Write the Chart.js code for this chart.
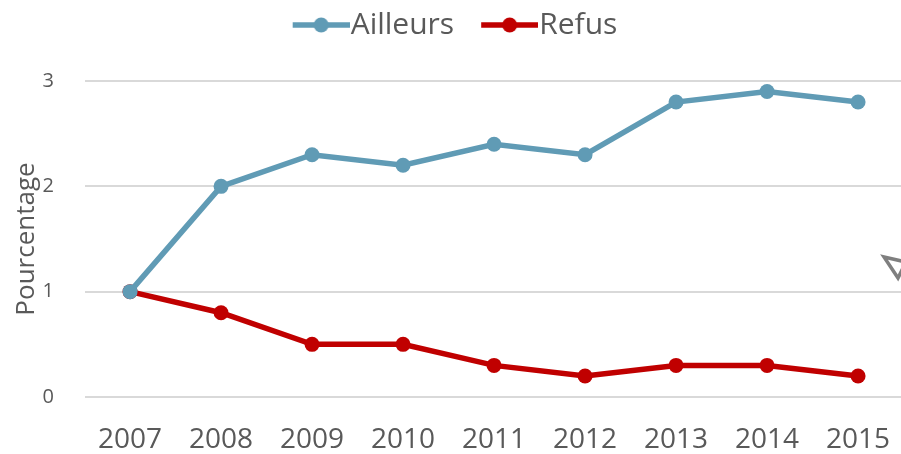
<!DOCTYPE html>
<html>
<head>
<meta charset="utf-8">
<script src="https://cdn.jsdelivr.net/npm/chart.js@4"></script>
<style>
  html, body { margin: 0; padding: 0; background: #fff; }
  #wrap { width: 901px; height: 454px; }
</style>
</head>
<body>
<div id="wrap"><canvas id="chart" width="901" height="454"></canvas></div>
<script>
const years = [2007, 2008, 2009, 2010, 2011, 2012, 2013, 2014, 2015]
const ailleurs = [1, 2, 2.3, 2.2, 2.4, 2.3, 2.8, 2.9, 2.8]
const refus = [1, 0.8, 0.5, 0.5, 0.3, 0.2, 0.3, 0.3, 0.2]
const yTicks = [0, 1, 2, 3]

const blue = '#609bb5'
const red = '#c00000'
const grey = '#595959'
const font = "'Open Sans', 'Liberation Sans', sans-serif"

// legend marker: short line with a dot in the middle (transparent margin on the left)
function marker(color) {
    const c = document.createElement('canvas')
    c.width = 88
    c.height = 18
    const g = c.getContext('2d')
    g.strokeStyle = color
    g.lineWidth = 5.5
    g.beginPath()
    g.moveTo(31, 9)
    g.lineTo(88, 9)
    g.stroke()
    g.fillStyle = color
    g.beginPath()
    g.arc(59.5, 9, 7.5, 0, Math.PI * 2)
    g.fill()
    return c
}

// more room under the legend
const legendGap = {
    id: 'legendGap',
    beforeInit(chart) {
        const fit = chart.legend.fit
        chart.legend.fit = function () {
            fit.bind(chart.legend)()
            this.height += 31
        }
    }
}

// horizontal gridlines running out to the right edge of the canvas
const gridToEdge = {
    id: 'gridToEdge',
    beforeDatasetsDraw(chart) {
        const g = chart.ctx
        const y = chart.scales.y
        g.save()
        g.strokeStyle = '#d9d9d9'
        g.lineWidth = 2
        yTicks.forEach(v => {
            const py = Math.round(y.getPixelForValue(v))
            g.beginPath()
            g.moveTo(chart.chartArea.left, py)
            g.lineTo(chart.width, py)
            g.stroke()
        })
        g.restore()
    }
}

// small grey arrowhead cut by the right edge
const arrowBit = {
    id: 'arrowBit',
    afterDraw(chart) {
        const g = chart.ctx
        g.save()
        g.strokeStyle = '#7f7f7f'
        g.lineWidth = 3.5
        g.lineJoin = 'miter'
        g.beginPath()
        g.moveTo(884, 257)
        g.lineTo(906, 262)
        g.lineTo(898, 278)
        g.closePath()
        g.stroke()
        g.restore()
    }
}

const toXY = arr => arr.map((v, i) => ({ x: years[i], y: v }))

const ctx = document.getElementById('chart').getContext('2d')
new Chart(ctx, {
    type: 'line',
    data: {
        datasets: [{
            label: 'Ailleurs',
            data: toXY(ailleurs),
            borderColor: blue,
            backgroundColor: blue,
            borderWidth: 5.5,
            pointRadius: 7.5,
            pointHoverRadius: 7.5,
            pointBorderWidth: 0,
            tension: 0
        }, {
            label: 'Refus',
            data: toXY(refus),
            borderColor: red,
            backgroundColor: red,
            borderWidth: 5.5,
            pointRadius: 7.5,
            pointHoverRadius: 7.5,
            pointBorderWidth: 0,
            tension: 0
        }]
    },
    options: {
        responsive: false,
        animation: false,
        layout: { padding: { left: 4, right: 12, top: 0, bottom: 0 } },
        plugins: {
            tooltip: { enabled: false },
            legend: {
                position: 'top',
                labels: {
                    usePointStyle: true,
                    pointStyleWidth: 60,
                    color: grey,
                    font: { family: font, size: 30 },
                    padding: 10,
                    generateLabels: chart => chart.data.datasets.map((ds, i) => ({
                        text: ds.label,
                        fontColor: grey,
                        pointStyle: marker(ds.borderColor),
                        datasetIndex: i,
                        hidden: false,
                        lineWidth: 0
                    }))
                }
            }
        },
        scales: {
            x: {
                type: 'linear',
                min: 2006.505,
                max: 2015.34,
                afterBuildTicks: axis => { axis.ticks = years.map(v => ({ value: v })) },
                afterFit: axis => {
                    axis.paddingLeft = 0
                    axis.paddingRight = 0
                    axis.height = 57
                },
                grid: { display: false },
                border: { display: false },
                ticks: {
                    color: grey,
                    font: { family: font, size: 28 },
                    padding: 18,
                    callback: v => String(v),
                    maxRotation: 0
                }
            },
            y: {
                min: 0,
                max: 3,
                afterBuildTicks: axis => { axis.ticks = yTicks.map(v => ({ value: v })) },
                afterFit: axis => { axis.width = 81 },
                grid: { display: false },
                border: { display: false },
                ticks: {
                    color: grey,
                    font: { family: font, size: 20 },
                    padding: 23
                },
                title: {
                    display: true,
                    text: 'Pourcentage',
                    color: grey,
                    font: { family: font, size: 26 },
                    padding: { top: 7, bottom: 7 }
                }
            }
        }
    },
    plugins: [legendGap, gridToEdge, arrowBit]
})
</script>
</body>
</html>
